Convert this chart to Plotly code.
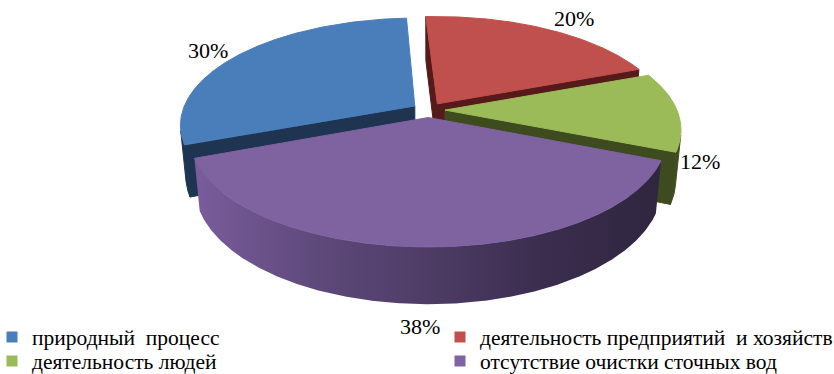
import numpy as np
import plotly.graph_objects as go

# ---- data -------------------------------------------------------------
categories = [
    "природный\u00a0 процесс",
    "деятельность предприятий\u00a0 и хозяйств",
    "деятельность людей",
    "отсутствие очистки сточных вод",
]
shares = [30, 20, 12, 38]
pct_labels = ["30%", "20%", "12%", "38%"]

# ---- styling ----------------------------------------------------------
top_colors = ["#4a7ebb", "#c0504d", "#9bbb59", "#7f62a0"]
side_colors = ["#1f3450", "#5c1d1d", "#3f4d1f", "#4e3c66"]
cut_colors = ["#1f3450", "#561a1a", "#3e4b1e", "#3a2d4e"]
side_gradients = [
    None,
    None,
    None,
    [[0, "#7a5c9c"], [0.25, "#5f4a7c"], [0.5, "#4e3c66"], [0.75, "#3a2d4e"], [1, "#30263f"]],
]
# label offsets (px) from the rim point at each slice's mid angle
label_shifts = [(-31, 4), (28, 10), (28, -1), (-5, -22)]
# legend grid: (marker centre x, row centre y) in px
legend_slots = [(12, 337), (460, 337), (12, 361), (460, 361)]
FONT = "Liberation Serif"
FONT_SIZE = 22
LEGEND_FONT_SIZE = 21.5

# ---- 3-D pie geometry (unit radius, perspective camera) ---------------
START_DEG = 249.0      # first slice starts here, clockwise from 12 o'clock
EXPLODE = 0.071        # radial offset of every slice
THICK = 0.245          # height of the pie disc
CAM_DIST = 5.19
ELEV = np.arcsin(0.4497)
S, C = np.sin(ELEV), np.cos(ELEV)
CAM = np.array([0.0, CAM_DIST * S, -CAM_DIST * C])

# screen frame: one projected unit = 232 px, pie centre at (428.5, 110) px
PX_PER_UNIT = 232.0
ORIGIN_X, ORIGIN_Y = 428.5, 110.0
W, H = 834, 374


def project(X, Y, Z):
    depth = CAM_DIST - Y * S + Z * C
    return X * CAM_DIST / depth, (Y * C + Z * S) * CAM_DIST / depth


def poly(points_xyz):
    X, Y, Z = (np.asarray(p, dtype=float) for p in points_xyz)
    u, v = project(X, Y, Z)
    return np.append(u, u[0]), np.append(v, v[0])


total = float(sum(shares))
bounds = START_DEG + 360.0 * np.concatenate([[0], np.cumsum(shares)]) / total
n = len(shares)
mids = [np.radians((bounds[i] + bounds[i + 1]) / 2) for i in range(n)]

fig = go.Figure()


def add_face(u, v, color, gradient=None):
    kw = dict(
        x=u, y=v, mode="lines", fill="toself", fillcolor=color,
        line=dict(color=color, width=1 if gradient is None else 0),
        hoverinfo="skip", showlegend=False,
    )
    if gradient is not None:
        kw["fillgradient"] = dict(type="horizontal", colorscale=gradient)
    fig.add_trace(go.Scatter(**kw))


# draw slices back to front
order = sorted(range(n), key=lambda i: -np.cos(mids[i]))
for i in order:
    a, b = np.radians(bounds[i]), np.radians(bounds[i + 1])
    m = mids[i]
    ex, ez = EXPLODE * np.sin(m), EXPLODE * np.cos(m)
    th = np.linspace(a, b, int(np.degrees(b - a) * 4) + 2)
    Xr, Zr = np.sin(th) + ex, np.cos(th) + ez

    # outer curved wall: keep only the parts facing the camera
    vis = np.sin(th) * (CAM[0] - Xr) + np.cos(th) * (CAM[2] - Zr) > 0
    idx = np.flatnonzero(vis)
    if idx.size:
        runs = np.split(idx, np.flatnonzero(np.diff(idx) > 1) + 1)
        for r in runs:
            if r.size < 2:
                continue
            xs = np.concatenate([Xr[r], Xr[r][::-1]])
            ys = np.concatenate([np.zeros(r.size), np.full(r.size, -THICK)])
            zs = np.concatenate([Zr[r], Zr[r][::-1]])
            u, v = poly((xs, ys, zs))
            add_face(u, v, side_colors[i], side_gradients[i])

    # flat cut faces at both ends of the slice
    for t, normal in ((a, (-np.cos(a), 0.0, np.sin(a))), (b, (np.cos(b), 0.0, -np.sin(b)))):
        view = CAM - np.array([ex, 0.0, ez])
        if np.dot(normal, view) <= 0:
            continue
        rx, rz = np.sin(t) + ex, np.cos(t) + ez
        u, v = poly(([ex, rx, rx, ex], [0, 0, -THICK, -THICK], [ez, rz, rz, ez]))
        add_face(u, v, cut_colors[i])

    # top face
    xs = np.concatenate([[ex], Xr])
    zs = np.concatenate([[ez], Zr])
    u, v = poly((xs, np.zeros(xs.size), zs))
    add_face(u, v, top_colors[i])

# percentage labels next to the rim at each slice's mid angle
annotations = []
for i in range(n):
    m = mids[i]
    ex, ez = EXPLODE * np.sin(m), EXPLODE * np.cos(m)
    y_anchor = 0.0 if np.cos(m) > 0 else -THICK
    u, v = project(np.sin(m) + ex, y_anchor, np.cos(m) + ez)
    annotations.append(dict(
        x=u, y=v, xref="x", yref="y", text=pct_labels[i], showarrow=False,
        xanchor="center", yanchor="middle",
        xshift=label_shifts[i][0], yshift=label_shifts[i][1],
        font=dict(family=FONT, size=FONT_SIZE, color="black"),
    ))

# legend: one single-entry legend per grid slot
legend_layout = {}
for i in range(n):
    key = "legend" if i == 0 else f"legend{i + 1}"
    fig.add_trace(go.Scatter(
        x=[None], y=[None], mode="markers", name=categories[i],
        marker=dict(symbol="square", size=11, color=top_colors[i]),
        legend=key,
    ))
    mx, my = legend_slots[i]
    legend_layout[key] = dict(
        orientation="h", x=(mx - 20) / W, xanchor="left",
        y=1 - my / H, yanchor="middle",
        font=dict(family=FONT, size=LEGEND_FONT_SIZE, color="black"),
        bgcolor="rgba(0,0,0,0)", borderwidth=0,
    )

fig.update_layout(
    width=W, height=H,
    margin=dict(l=0, r=0, t=0, b=0, autoexpand=False),
    paper_bgcolor="white", plot_bgcolor="white",
    xaxis=dict(visible=False, range=[-ORIGIN_X / PX_PER_UNIT, (W - ORIGIN_X) / PX_PER_UNIT], fixedrange=True),
    yaxis=dict(visible=False, range=[(ORIGIN_Y - H) / PX_PER_UNIT, ORIGIN_Y / PX_PER_UNIT], fixedrange=True),
    showlegend=True,
    annotations=annotations,
    **legend_layout,
)

fig.write_html("out.html")
